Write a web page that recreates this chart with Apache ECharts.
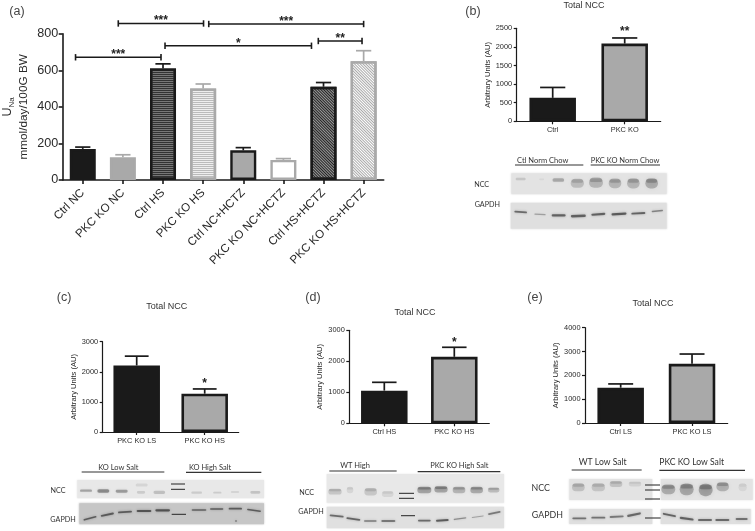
<!DOCTYPE html>
<html><head><meta charset="utf-8">
<style>html,body{margin:0;padding:0;background:#fff}#c{width:755px;height:531px}</style>
<script src="https://cdn.jsdelivr.net/npm/echarts@6/dist/echarts.min.js"></script>
</head><body><div id="c"></div>
<script>
// ---------- data ----------
const catsA = ['Ctrl NC','PKC KO NC','Ctrl HS','PKC KO HS','Ctrl NC+HCTZ','PKC KO NC+HCTZ','Ctrl HS+HCTZ','PKC KO HS+HCTZ'];
const valsA = [170,125,610,500,162,110,510,650];
const errA  = [180,138,635,525,177,117,533,707];
const sigA  = [[0.32,2.45,671,'***'],[1.385,3.51,856,'***'],[3.64,7.50,853,'***'],[2.55,6.2,734,'*'],[6.37,7.46,760,'**']];

const catsB = ['Ctrl','PKC KO'];
const valsB = [630,2090];
const errB  = [910,2240];
const catsC = ['PKC KO LS','PKC KO HS'];
const valsC = [2210,1273];
const errC  = [2520,1430];
const catsD = ['Ctrl HS','PKC KO HS'];
const valsD = [1054,2145];
const errD  = [1322,2452];
const catsE = ['Ctrl LS','PKC KO LS'];
const valsE = [1482,2485];
const errE  = [1640,2895];
const ticksB = {max:2500, interval:500};
const ticksC = {max:3000, interval:1000};
const ticksD = {max:3000, interval:1000};
const ticksE = {max:4000, interval:1000};

// ---------- styles ----------
const FONT = 'Liberation Sans';
const BLOTFONT = 'Lato';
const INK = '#1a1a1a', GREY = '#a9a9a9';
const rad = d => d*Math.PI/180;
const hatch = (color,rot) => ({symbol:'rect',symbolSize:1,dashArrayX:[[1,0]],dashArrayY:[1,1],rotation:rot,color});
const styleA = [
  {color:INK,borderColor:INK},
  {color:GREY,borderColor:GREY},
  {color:'#777',borderColor:INK,decal:hatch('#333',0)},
  {color:'#eee',borderColor:GREY,decal:hatch('#bbb',0)},
  {color:GREY,borderColor:INK},
  {color:'#fff',borderColor:GREY},
  {color:'#999',borderColor:INK,decal:hatch('#222',rad(45))},
  {color:'#fff',borderColor:GREY,decal:hatch('#aaa',rad(45))}
];
const errColA = [INK,GREY,INK,GREY,INK,GREY,INK,GREY];

// ---------- panels ----------
const panels = [
 {grid:{left:62.7,top:33.7,width:321,height:146.3}, cats:catsA, vals:valsA, err:errA, y:{max:800,interval:200}, big:true},
 {grid:{left:516.7,top:28.3,width:144,height:93}, cats:catsB, vals:valsB, err:errB, y:ticksB, gap:22, stars:[[1,2454,'**']]},
 {grid:{left:102.7,top:341.7,width:136,height:90.3}, cats:catsC, vals:valsC, err:errC, y:ticksC, gap:24, stars:[[1,1660,'*']]},
 {grid:{left:349.3,top:330.3,width:140,height:93}, cats:catsD, vals:valsD, err:errD, y:ticksD, gap:25, stars:[[1,2655,'*']]},
 {grid:{left:585,top:327.7,width:142.7,height:95.3}, cats:catsE, vals:valsE, err:errE, y:ticksE, gap:25}
];

const grid=[],xAxis=[],yAxis=[],series=[];
panels.forEach((p,i)=>{
  const big=!!p.big;
  grid.push(p.grid);
  const line={lineStyle:{color:INK,width:big?1.6:1.2}};
  xAxis.push({type:'category',gridIndex:i,data:p.cats,
    axisLine:{show:true,...line},
    axisTick:{show:true,alignWithLabel:true,length:big?4:3,...line},
    axisLabel:{interval:0,rotate:big?45:0,margin:big?11:5.5,fontFamily:FONT,fontSize:big?11.6:7.4,color:'#2a2a2a'}});
  yAxis.push({type:'value',gridIndex:i,min:0,max:p.y.max,interval:p.y.interval,splitLine:{show:false},
    axisLine:{show:true,...line},
    axisTick:{show:true,length:big?4:3,...line},
    axisLabel:{formatter:v=>String(v),margin:4.5,fontFamily:FONT,fontSize:big?12.6:7.4,color:'#2a2a2a'},
    name:big?'{u|U}{s|Na}\n{m|mmol/day/100G BW}':'Arbitrary Units (AU)',
    nameLocation:'middle',nameGap:big?31:p.gap,nameRotate:90,
    nameTextStyle:big?{rich:{u:{fontFamily:FONT,fontSize:12.5,color:'#2a2a2a',lineHeight:16},s:{fontFamily:FONT,fontSize:8,color:'#2a2a2a',verticalAlign:'bottom',lineHeight:16},m:{fontFamily:FONT,fontSize:11.8,color:'#2a2a2a',lineHeight:16}}}:{fontFamily:FONT,fontSize:7.6,color:'#2a2a2a'}});
  const bw=big?26:46.5;
  series.push({type:'bar',xAxisIndex:i,yAxisIndex:i,barWidth:bw,silent:true,
    data:p.vals.map((v,k)=>({value:v,itemStyle:big?{...styleA[k],borderWidth:2.4}:{color:k?GREY:INK,borderColor:INK,borderWidth:2.6}}))});
  const capFrac=big?0.19:0.175;
  series.push({type:'custom',xAxisIndex:i,yAxisIndex:i,clip:false,silent:true,z:1,
    data:p.err.map((e,k)=>[k,p.vals[k],e]),
    renderItem:(params,api)=>{
      const k=api.value(0);
      const a=api.coord([k,api.value(1)]),b=api.coord([k,api.value(2)]);
      const h=api.size([1,0])[0]*capFrac;
      const col=big?errColA[k]:INK;
      const st={stroke:col,lineWidth:1.7,fill:null};
      return {type:'group',children:[
        {type:'line',shape:{x1:a[0],y1:a[1],x2:b[0],y2:b[1]},style:st},
        {type:'line',shape:{x1:b[0]-h,y1:b[1],x2:b[0]+h,y2:b[1]},style:st}]};
    }});
  if(p.stars){
    series.push({type:'custom',xAxisIndex:i,yAxisIndex:i,clip:false,silent:true,data:p.stars,
      renderItem:(params,api)=>{
        const c=api.coord([api.value(0),api.value(1)]);
        return {type:'text',x:c[0],y:c[1]+2,style:{text:p.stars[params.dataIndex][2],fontFamily:FONT,fontWeight:'bold',fontSize:12,fill:'#222',align:'center',verticalAlign:'middle'}};
      }});
  }
});

// hidden fractional x scale for the significance brackets of panel (a)
xAxis.push({type:'value',gridIndex:0,min:0,max:8,show:false});
series.push({type:'custom',xAxisIndex:xAxis.length-1,yAxisIndex:0,clip:false,silent:true,data:sigA,
  renderItem:(params,api)=>{
    const y=api.value(2);
    const a=api.coord([api.value(0),y]),b=api.coord([api.value(1),y]);
    const st={stroke:INK,lineWidth:1.6,fill:null};
    return {type:'group',children:[
      {type:'line',shape:{x1:a[0],y1:a[1],x2:b[0],y2:b[1]},style:st},
      {type:'line',shape:{x1:a[0],y1:a[1]-3.2,x2:a[0],y2:a[1]+3.2},style:st},
      {type:'line',shape:{x1:b[0],y1:b[1]-3.2,x2:b[0],y2:b[1]+3.2},style:st},
      {type:'text',x:(a[0]+b[0])/2,y:a[1]-2.5,style:{text:sigA[params.dataIndex][3],fontFamily:FONT,fontWeight:'bold',fontSize:12,fill:'#222',align:'center',verticalAlign:'middle'}}
    ]};
  }});

// ---------- titles ----------
const title=[[584,6],[166.7,306.7],[415,313],[653,304]].map(([x,y])=>({text:'Total NCC',left:x,top:y-4.5,padding:0,textAlign:'center',textStyle:{fontFamily:FONT,fontSize:9,fontWeight:'normal',color:'#333'}}));

// ---------- western-blot artwork (decoration, drawn in crop coordinates: offset + zoom/3) ----------
const graphic=[];
function T(x,y,text,size,font,col){graphic.push({type:'text',x,y,silent:true,z:5,style:{text,fontFamily:font||BLOTFONT,fontSize:size,fill:col||'#333',align:'center',verticalAlign:'middle'}});}
function band(cx,cy,w,h,alpha,rot){
  const c=`rgba(25,25,25,${alpha})`;
  graphic.push({type:'rect',silent:true,shape:{x:cx-w/2,y:cy-h/2,width:w,height:h,r:h/2},originX:cx,originY:cy,rotation:rad(rot||0),style:{fill:c,shadowBlur:Math.max(2.5,Math.min(5,h/1.5)),shadowColor:c},z:2});
}
function blot(o){
  const X=v=>o.ox+v/3, Y=v=>o.oy+v/3;
  (o.rects||[]).forEach(r=>graphic.push({type:'rect',silent:true,shape:{x:X(r[0]),y:Y(r[1]),width:(r[2]-r[0])/3,height:(r[3]-r[1])/3},style:{fill:r[4],shadowBlur:2,shadowColor:r[4]},z:1}));
  (o.heads||[]).forEach(h=>{T(X(h[0]),Y(h[1]),h[2],o.hs||7.5);});
  (o.lines||[]).forEach(l=>graphic.push({type:'line',silent:true,shape:{x1:X(l[0]),y1:Y(l[2]),x2:X(l[1]),y2:Y(l[2])},style:{stroke:'#333',lineWidth:1.1},z:3}));
  (o.bands||[]).forEach(b=>{
    const tall=b[3]>=18, a=b[4]*0.65;
    band(X(b[0]),Y(b[1]),b[2]/3,b[3]/3*0.8,tall?a*0.7:a,b[5]);
    if(tall) band(X(b[0]),Y(b[1]-b[3]*0.2),b[2]/3*0.9,b[3]/3*0.3,a*0.6,b[5]);
  });
  (o.labels||[]).forEach(l=>T(X(l[0]),Y(l[1]),l[2],o.ls||7.2));
}
// (b)
blot({ox:470,oy:150,
 rects:[[124,70,590,133,'#e3e3e3'],[122,158,590,236,'#dfdfdf']],
 heads:[[218,33,'Ctl Norm Chow'],[465,33,'PKC KO Norm Chow']],
 lines:[[135,340,45],[362,570,45]],
 labels:[[35,105,'NCC'],[52,165,'GAPDH']],
 bands:[[152,87,30,9,.2],[215,88,15,6,.08],[265,90,35,14,.4],[322,100,40,34,.38],[378,98,42,38,.45],[435,100,38,36,.45],[490,100,38,38,.45],[545,100,38,38,.55],
  [152,186,38,7,.8,-4],[210,193,34,5,.45,-3],[266,196,42,9,.85],[325,198,45,9,.85,2],[385,193,42,8,.85,4],[447,192,45,8,.9,3],[505,190,42,7,.85,3],[562,183,34,5,.65,6]]});
// (c)
blot({ox:70,oy:460,
 rects:[[22,60,582,115,'#e8e8e8'],[28,130,582,193,'#c6c6c6']],
 heads:[[145,22,'KO Low Salt'],[420,22,'KO High Salt']],
 lines:[[35,283,36],[348,574,37],[303,345,72],[303,345,88],[305,348,163]],
 labels:[[-36,91,'NCC'],[-21,178,'GAPDH']],
 bands:[[48,92,36,9,.45],[100,93,36,13,.6],[155,94,36,11,.5],[215,75,36,12,.13],[213,97,25,10,.2],[268,97,35,12,.28],[380,98,32,8,.2],[442,98,25,7,.2],[495,96,25,8,.14],[556,97,30,10,.25],
  [60,175,40,6,.85,15],[112,164,40,7,.85,12],[165,156,42,7,.85,4],[222,153,44,8,.9],[278,151,44,8,.9],[387,150,44,6,.8],[440,147,40,6,.85],[496,146,40,7,.85],[552,151,42,6,.85,-8],[498,183,6,6,.7]]});
// (d)
blot({ox:295,oy:455,
 rects:[[95,57,627,143,'#e8e8e8'],[95,155,627,220,'#e0e0e0']],
 heads:[[180,33,'WT High'],[493,33,'PKC KO High Salt']],
 lines:[[103,305,48],[368,616,50],[312,357,115],[312,357,130],[318,360,182]],
 labels:[[35,113,'NCC'],[48,171,'GAPDH']],
 bands:[[120,110,40,22,.33],[165,105,20,24,.18],[227,110,38,28,.33],[278,117,35,22,.18],[388,105,42,24,.65],[438,103,40,24,.65],[492,105,38,24,.5],[545,105,38,24,.6],[596,105,35,18,.42],
  [125,183,42,7,.8,-6],[175,192,42,7,.85,-8],[226,198,38,6,.7],[280,198,42,7,.7],[388,197,38,6,.8],[442,196,38,7,.9,4],[495,191,38,5,.6,8],[548,185,36,4,.45,8],[598,174,38,6,.7,12]]});
// (e)
blot({ox:530,oy:450,hs:8.6,ls:8.8,
 rects:[[118,87,367,150,'#e3e3e3'],[392,87,668,150,'#e3e3e3'],[118,177,367,222,'#dfdfdf'],[392,177,662,222,'#dfdfdf']],
 heads:[[218,37,'WT Low Salt'],[485,37,'PKC KO Low Salt']],
 lines:[[125,335,60],[388,645,61],[345,390,105],[345,390,120],[345,390,147],[345,392,204]],
 labels:[[32,115,'NCC'],[52,195,'GAPDH']],
 bands:[[145,112,38,30,.35],[205,112,40,30,.32],[258,102,38,22,.33],[315,102,38,18,.18],[415,118,42,36,.55],[470,118,42,44,.6],[527,120,42,46,.65],[578,110,38,34,.5],[638,112,25,30,.13],
  [148,205,42,7,.75],[205,203,42,7,.75],[260,200,42,7,.7,3],[312,194,42,8,.8,12],[418,195,40,7,.85,-12],[470,206,42,8,.85,-8],[525,210,42,7,.8],[577,210,42,7,.8],[635,207,36,7,.75]]});
// panel letters
[[17,12,'(a)'],[473,12,'(b)'],[64,298,'(c)'],[313,298,'(d)'],[535,298,'(e)']].forEach(l=>T(l[0],l[1],l[2],12.5,FONT,'#444'));

const chart=echarts.init(document.getElementById('c'),null,{renderer:'canvas'});
chart.setOption({animation:false,backgroundColor:'#fff',title,grid,xAxis,yAxis,series,graphic:{elements:graphic}});
</script></body></html>
